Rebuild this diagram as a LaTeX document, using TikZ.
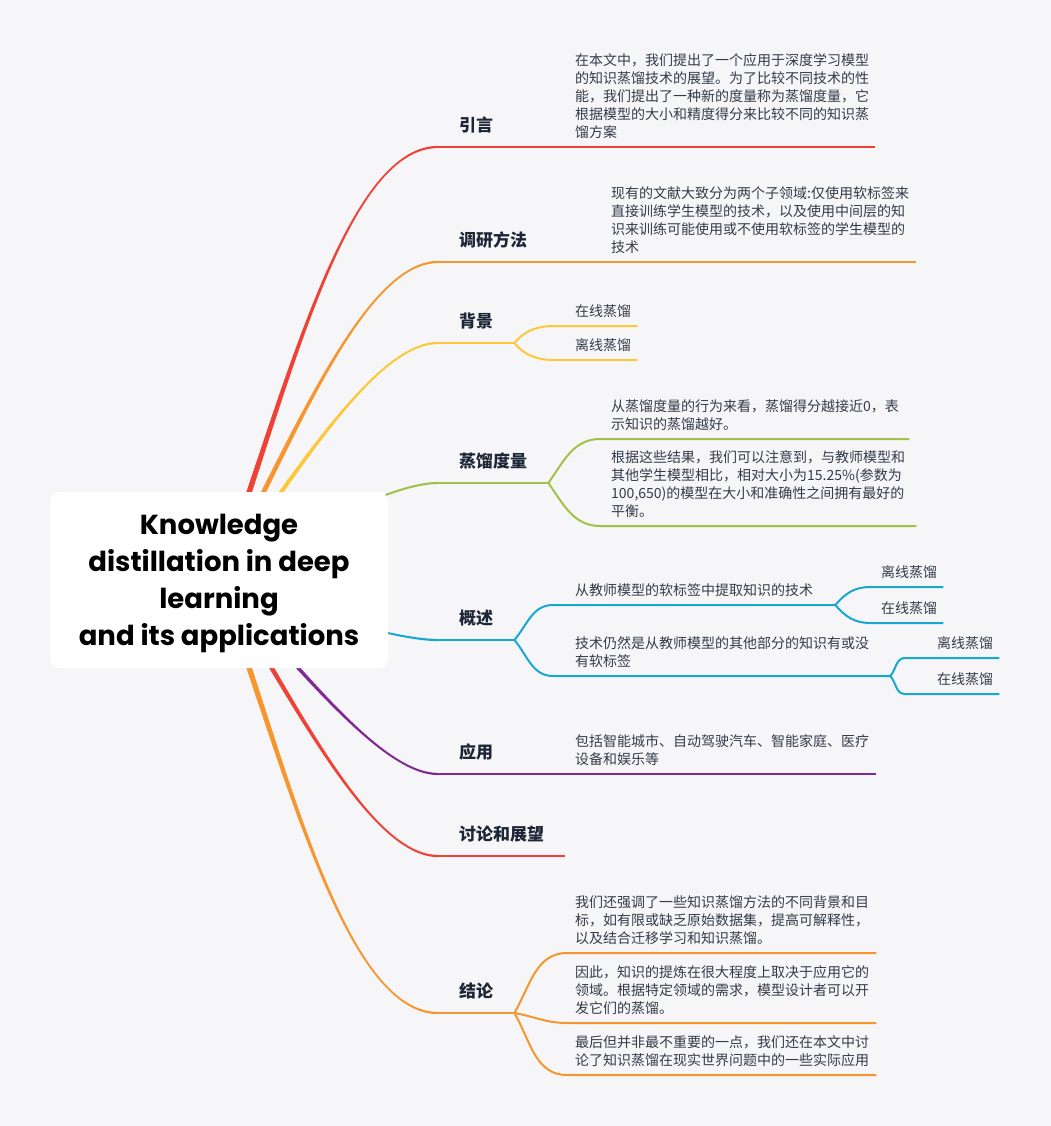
\documentclass[tikz,border=0pt]{standalone}
\usepackage{fontspec}
\setmainfont{Noto Sans CJK SC}
\newfontfamily\rootfont{Poppins}
\usetikzlibrary{calc}
\definecolor{pagebg}{HTML}{F6F6F8}
\definecolor{kred}{HTML}{EF4136}
\definecolor{korange}{HTML}{F7962F}
\definecolor{kyellow}{HTML}{FCC83A}
\definecolor{kgreen}{HTML}{A2C14A}
\definecolor{kblue}{HTML}{17A8CF}
\definecolor{kpurple}{HTML}{7F2B91}
\definecolor{ink}{HTML}{1D2636}
\definecolor{notegray}{HTML}{343B47}

\begin{document}
\begin{tikzpicture}[x=1pt,y=1pt,
 topic/.style={anchor=south west,inner xsep=21pt,inner ysep=13.5pt,text depth=2pt,text=ink,font=\fontsize{17}{20}\selectfont\bfseries},
 note/.style={anchor=south west,inner xsep=6pt,inner ysep=7.5pt,align=left,text=notegray,font=\fontsize{14}{18}\selectfont,execute at end node={\rule[-2pt]{0pt}{2pt}}},
 twig/.style={line width=2pt},
 rootbox/.style={fill=white,rounded corners=9pt,minimum width=338pt,minimum height=176pt,align=center,font=\rootfont\fontsize{27.5}{37}\selectfont\bfseries}]
 \fill[pagebg] (0,0) rectangle (1051,-1126);
 \coordinate (hub) at (219,-580);
 % main topics
 \foreach \i/\y/\txt in {1/147/引言,2/262/调研方法,3/343/背景,4/483/蒸馏度量,5/640/概述,6/774/应用,7/856/讨论和展望,8/1013/结论}
  \node[topic] (t\i) at (438,-\y) {\txt};
 % notes and leaves
 \node[note,text width=294pt] (d1) at (569,-147) {在本文中，我们提出了一个应用于深度学习模型\\的知识蒸馏技术的展望。为了比较不同技术的性\\能，我们提出了一种新的度量称为蒸馏度量，它\\根据模型的大小和精度得分来比较不同的知识蒸\\馏方案};
 \node[note,text width=299pt] (d2) at (605,-262) {现有的文献大致分为两个子领域:仅使用软标签来\\直接训练学生模型的技术，以及使用中间层的知\\识来训练可能使用或不使用软标签的学生模型的\\技术};
 \node[note] (l31) at (569,-326) {在线蒸馏};
 \node[note] (l32) at (569,-360) {离线蒸馏};
 \node[note,text width=292pt] (d41) at (605,-439) {从蒸馏度量的行为来看，蒸馏得分越接近0，表\\示知识的蒸馏越好。};
 \node[note,text width=299pt] (d42) at (605,-526) {根据这些结果，我们可以注意到，与教师模型和\\其他学生模型相比，相对大小为15.25\%(参数为\\100,650)的模型在大小和准确性之间拥有最好的\\平衡。};
 \node[note,text width=254pt] (c51) at (569,-605) {从教师模型的软标签中提取知识的技术};
 \node[note,text width=309pt] (c52) at (569,-676) {技术仍然是从教师模型的其他部分的知识有或没\\有软标签};
 \node[note] (l51) at (875,-587) {离线蒸馏};
 \node[note] (l52) at (875,-623) {在线蒸馏};
 \node[note] (l53) at (931,-658) {离线蒸馏};
 \node[note] (l54) at (931,-694) {在线蒸馏};
 \node[note,text width=295pt] (d6) at (569,-774) {包括智能城市、自动驾驶汽车、智能家庭、医疗\\设备和娱乐等};
 \node[note,text width=295pt] (c81) at (569,-953) {我们还强调了一些知识蒸馏方法的不同背景和目\\标，如有限或缺乏原始数据集，提高可解释性，\\以及结合迁移学习和知识蒸馏。};
 \node[note,text width=295pt] (c82) at (569,-1023) {因此，知识的提炼在很大程度上取决于应用它的\\领域。根据特定领域的需求，模型设计者可以开\\发它们的蒸馏。};
 \node[note,text width=295pt] (c83) at (569,-1075) {最后但并非最不重要的一点，我们还在本文中讨\\论了知识蒸馏在现实世界问题中的一些实际应用};
 % tapered branches from the hub
 \foreach \i/\c/\a in {1/kred/70,2/korange/62,3/kyellow/54,4/kgreen/30,5/kblue/-20,6/kpurple/-47,7/kred/-58,8/korange/-70}{
  \pgfmathsetmacro\s{sign(\a)}
  \path let \p1=(hub), \p2=(t\i.south west), \n1={0.3915*veclen(\x2-\x1,\y2-\y1)} in
   coordinate (c1) at ($(\p1)+(\a:\n1)$)
   coordinate (c2) at ($(\p2)+(-0.5*\n1,0)$);
  \fill[\c] ($(hub)+(-3.2*\s,0)$) .. controls ($(c1)+(-2.6*\s,0)$) and ($(c2)+(0,1.1)$) .. ($(t\i.south west)+(0,1.1)$)
   -- ($(t\i.south west)+(0,-1.1)$) .. controls ($(c2)+(0,-1.1)$) and ($(c1)+(2.6*\s,0)$) .. ($(hub)+(3.2*\s,0)$) -- cycle;
 }
 % underlines
 \foreach \i/\e/\c in {1/d1/kred,2/d2/korange,3/t3/kyellow,4/t4/kgreen,5/t5/kblue,6/d6/kpurple,7/t7/kred,8/t8/korange}
  \draw[\c,line width=2.2pt] (t\i.south west) -- (\e.south east);
 % sub branches
 \foreach \p/\k/\a/\g/\c in {t3/l31/50/14/kyellow,t3/l32/-50/14/kyellow,t4/d41/55/5/kgreen,t4/d42/-55/5/kgreen,
   t5/c51/50/16/kblue,t5/c52/-50/16/kblue,c51/l51/50/5/kblue,c51/l52/-50/5/kblue,c52/l53/50/26/kblue,c52/l54/-50/26/kblue,
   t8/c81/60/2/korange,t8/c82/-10/2/korange,t8/c83/-60/2/korange}
  \draw[\c,twig] (\p.south east) to[out=\a,in=180] ([xshift=-\g pt]\k.south west) -- (\k.south east);
 \node[rootbox] (root) at (hub) {\rule{0pt}{28pt}Knowledge\\distillation in deep\\learning\\and its applications};
\end{tikzpicture}
\end{document}
